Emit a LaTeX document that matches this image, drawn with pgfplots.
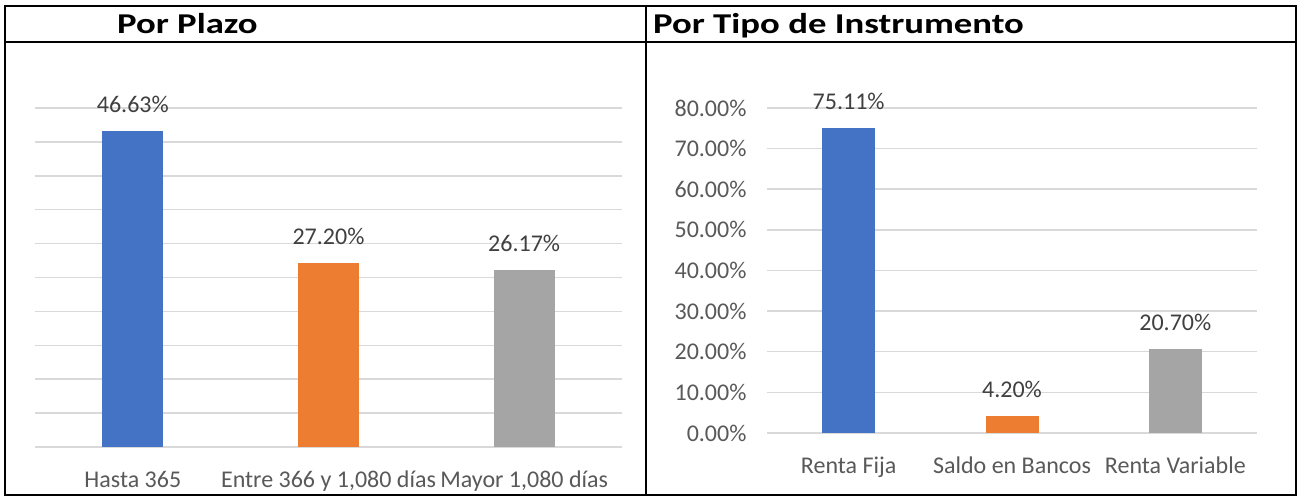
\documentclass[border=0pt]{standalone}
\usepackage{pgfplots}
\pgfplotsset{compat=1.18}
\usepackage{graphicx}
\usepackage{fontspec}
\setmainfont{Carlito}
\definecolor{cblue}{HTML}{4472C4}
\definecolor{corange}{HTML}{ED7D31}
\definecolor{cgray}{HTML}{A5A5A5}
\definecolor{ctext}{HTML}{595959}
\definecolor{clabel}{HTML}{404040}
\definecolor{cgrid}{HTML}{D9D9D9}
\begin{document}
\begin{tikzpicture}
\fill[white] (0pt,0pt) rectangle (1301pt,497pt);
\pgfplotsset{
  mybars/.style={
    scale only axis,
    axis line style={draw=none},
    ymajorgrids,
    grid style={cgrid,line width=1.5pt},
    major tick length=0pt,
    xmin=-0.5,xmax=2.5,
    xtick={0,1,2},
    ymin=0,
    enlarge y limits=false,
    clip=false,
    ticklabel style={text=ctext,font=\fontsize{24}{28}\selectfont},
    xticklabel style={anchor=base,yshift=-41pt},
    /pgf/number format/assume math mode=true,
    nodes near coords={\pgfmathprintnumber[fixed,fixed zerofill,precision=2]{\pgfplotspointmeta}\%},
    every node near coord/.append style={text=clabel,font=\fontsize{24}{28}\selectfont,anchor=base,yshift=18pt},
  }
}
% left
\begin{axis}[mybars,
  at={(35pt,50pt)},anchor=south west,
  width=587pt,height=339pt,
  ymax=50, ytick={0,5,...,50}, yticklabels={},
  xticklabels={Hasta 365,Entre 366 y 1{,}080 días,Mayor 1{,}080 días},
  ]
\addplot[ybar,bar width=61pt,fill=cblue,draw=none] coordinates {(0,46.63)};
\addplot[ybar,bar width=61pt,fill=corange,draw=none] coordinates {(1,27.20)};
\addplot[ybar,bar width=61pt,fill=cgray,draw=none] coordinates {(2,26.17)};
\end{axis}
% right
\begin{axis}[mybars,
  at={(767pt,64pt)},anchor=south west,
  width=490pt,height=325pt,
  ymax=80, ytick={0,10,...,80},
  yticklabels={0.00\%,10.00\%,20.00\%,30.00\%,40.00\%,50.00\%,60.00\%,70.00\%,80.00\%},
  yticklabel style={xshift=-17pt},
  xticklabels={Renta Fija,Saldo en Bancos,Renta Variable},
  ]
\addplot[ybar,bar width=53pt,fill=cblue,draw=none] coordinates {(0,75.11)};
\addplot[ybar,bar width=53pt,fill=corange,draw=none] coordinates {(1,4.20)};
\addplot[ybar,bar width=53pt,fill=cgray,draw=none] coordinates {(2,20.70)};
\end{axis}
% frame
\draw[black,line width=2.5pt] (5pt,2pt) rectangle (1296pt,491pt);
\draw[black,line width=2.5pt] (5pt,455pt) -- (1296pt,455pt);
\draw[black,line width=2.5pt] (646pt,2pt) -- (646pt,491pt);
\node[anchor=base west,inner sep=0pt,font=\fontsize{28.7}{32}\selectfont\bfseries] at (117pt,463pt) {\scalebox{1.28}[1]{Por Plazo}};
\node[anchor=base west,inner sep=0pt,font=\fontsize{28.7}{32}\selectfont\bfseries] at (653pt,463pt) {\scalebox{1.28}[1]{Por Tipo de Instrumento}};
\end{tikzpicture}
\end{document}
